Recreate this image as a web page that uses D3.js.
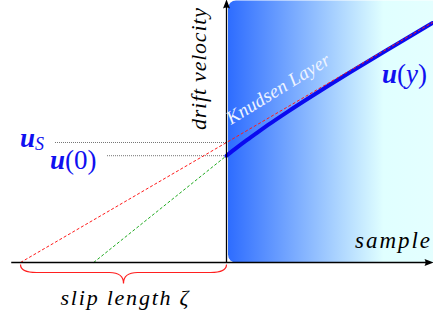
<!DOCTYPE html>
<html>
<head>
<meta charset="utf-8">
<script src="https://cdn.jsdelivr.net/npm/d3@7"></script>
</head>
<body style="margin:0">
<div id="chart"></div>
<script>
/* distance from the wall (in slip lengths) and drift velocity (in u_S) */
const slipLineY = [-1, 1];
const slipLineU = [0, 2];
const wallLineY = [-0.645, 0];
const wallLineU = [0, 0.89];
const profileY = [0, 0.05, 0.1, 0.15, 0.2, 0.3, 0.4, 0.5, 0.6, 0.8, 1.0];
const profileU = [0.89, 0.957, 1.021, 1.083, 1.144, 1.26, 1.371, 1.479, 1.585, 1.792, 1.996];
const uS = 1;
const u0 = 0.89;
const axisY = [-1.045, 1.005];
const axisU = [0, 2.18];

const width = 433, height = 320;
const serif = "serif";

const x = d3.scaleLinear().domain([-1, 1]).range([20.5, 432.5]);
const y = d3.scaleLinear().domain([0, 1]).range([262.5, 142.5]);

const svg = d3.select("#chart")
	.append("svg")
	.attr("width", width)
	.attr("height", height)
	.style("display", "block");

/* sample gradient */
const grad = svg.append("defs").append("linearGradient")
	.attr("id", "sampleGrad")
	.attr("gradientUnits", "userSpaceOnUse")
	.attr("x1", x(0)).attr("x2", width)
	.attr("y1", 0).attr("y2", 0);
grad.append("stop").attr("offset", 0).attr("stop-color", "#2c6bff");
grad.append("stop").attr("offset", 0.76).attr("stop-color", "#e0ffff");
grad.append("stop").attr("offset", 1).attr("stop-color", "#e4ffff");

svg.append("rect")
	.attr("x", x(0) + 1.5)
	.attr("y", y(axisU[1]) - 0.5)
	.attr("width", 240)
	.attr("height", y(0) - y(axisU[1]) + 0.5)
	.attr("rx", 8)
	.attr("fill", "url(#sampleGrad)");

/* reference dotted lines for u_S and u(0) */
const dotted = [
	{u: uS, from: 55},
	{u: u0, from: 107}
];
svg.selectAll(".ref")
	.data(dotted)
	.enter().append("line")
	.attr("class", "ref")
	.attr("x1", d => d.from)
	.attr("x2", x(0))
	.attr("y1", d => y(d.u))
	.attr("y2", d => y(d.u))
	.attr("stroke", "#666")
	.attr("stroke-width", 0.9)
	.attr("stroke-dasharray", "1,1");

const line = d3.line().x(d => x(d[0])).y(d => y(d[1]));

/* green extrapolation of u(0) */
svg.append("path")
	.attr("d", line(d3.zip(wallLineY, wallLineU)))
	.attr("fill", "none")
	.attr("stroke", "#1faa1f")
	.attr("stroke-width", 1)
	.attr("stroke-dasharray", "3,2");

/* velocity profile */
svg.append("path")
	.attr("d", line.curve(d3.curveMonotoneX)(d3.zip(profileY, profileU)))
	.attr("fill", "none")
	.attr("stroke", "#0a0af0")
	.attr("stroke-width", 4)
	.attr("stroke-linecap", "round");
line.curve(d3.curveLinear);

/* red slip line */
svg.append("path")
	.attr("d", line(d3.zip(slipLineY, slipLineU)))
	.attr("fill", "none")
	.attr("stroke", "#ff1a1a")
	.attr("stroke-width", 1)
	.attr("stroke-dasharray", "3,2");

/* axes */
svg.append("line")
	.attr("x1", x(axisY[0])).attr("x2", x(axisY[1]) - 4)
	.attr("y1", y(0)).attr("y2", y(0))
	.attr("stroke", "#000").attr("stroke-width", 1.3);
svg.append("line")
	.attr("x1", x(0)).attr("x2", x(0))
	.attr("y1", y(0)).attr("y2", y(axisU[1]) + 4)
	.attr("stroke", "#000").attr("stroke-width", 1.3);

const tipR = [x(axisY[1]), y(0)];
svg.append("path")
	.attr("d", `M${tipR[0]},${tipR[1]} L${tipR[0] - 9},${tipR[1] - 3.5} Q${tipR[0] - 7},${tipR[1]} ${tipR[0] - 9},${tipR[1] + 3.5} Z`)
	.attr("fill", "#000");
const tipT = [x(0), y(axisU[1]) - 1.5];
svg.append("path")
	.attr("d", `M${tipT[0]},${tipT[1]} L${tipT[0] - 3.5},${tipT[1] + 9} Q${tipT[0]},${tipT[1] + 7} ${tipT[0] + 3.5},${tipT[1] + 9} Z`)
	.attr("fill", "#000");

/* slip length brace */
const bx0 = x(-1), bx1 = x(0), bm = (bx0 + bx1) / 2;
const bt = y(0) + 2, bmid = y(0) + 10, bb = y(0) + 21;
svg.append("path")
	.attr("d", `M${bx0},${bt} Q${bx0},${bmid} ${bx0 + 16},${bmid} L${bm - 14},${bmid} Q${bm},${bmid} ${bm},${bb}`
		+ ` Q${bm},${bmid} ${bm + 14},${bmid} L${bx1 - 16},${bmid} Q${bx1},${bmid} ${bx1},${bt}`)
	.attr("fill", "none")
	.attr("stroke", "#ff2020")
	.attr("stroke-width", 1.2);

/* text labels */
const label = (txt, size) => svg.append("text")
	.attr("font-family", serif)
	.attr("font-style", "italic")
	.attr("font-size", size)
	.attr("fill", "#000")
	.text(txt);

label("drift velocity", 22)
	.attr("transform", "translate(206, 69) rotate(-90)")
	.attr("text-anchor", "middle")
	.attr("textLength", 122);

label("sample", 23)
	.attr("x", 355).attr("y", 248)
	.attr("textLength", 75);

label("slip length ζ", 22)
	.attr("x", bm - 63).attr("y", 305)
	.attr("textLength", 128);

label("Knudsen Layer", 19)
	.attr("transform", "translate(231, 125) rotate(-31.5)")
	.attr("textLength", 118)
	.attr("fill", "#eef4ff");

const mathLabel = (px, py, arg) => {
	const t = svg.append("text")
		.attr("x", px).attr("y", py)
		.attr("font-family", serif)
		.attr("font-size", 27)
		.attr("fill", "#1010f0");
	t.append("tspan").attr("font-weight", "bold").attr("font-style", "italic").text("u");
	t.append("tspan").text("(");
	t.append("tspan").attr("font-style", arg === "y" ? "italic" : "normal").text(arg);
	t.append("tspan").text(")");
	return t;
};
mathLabel(50, y(u0) + 13, "0");
mathLabel(382, 83, "y");

const us = svg.append("text")
	.attr("x", 20).attr("y", y(uS) + 4)
	.attr("font-family", serif)
	.attr("fill", "#1010f0");
us.append("tspan").attr("font-size", 27).attr("font-weight", "bold").attr("font-style", "italic").text("u");
us.append("tspan").attr("font-size", 18).attr("font-style", "italic").attr("dy", 3).text("S");
</script>
</body>
</html>
